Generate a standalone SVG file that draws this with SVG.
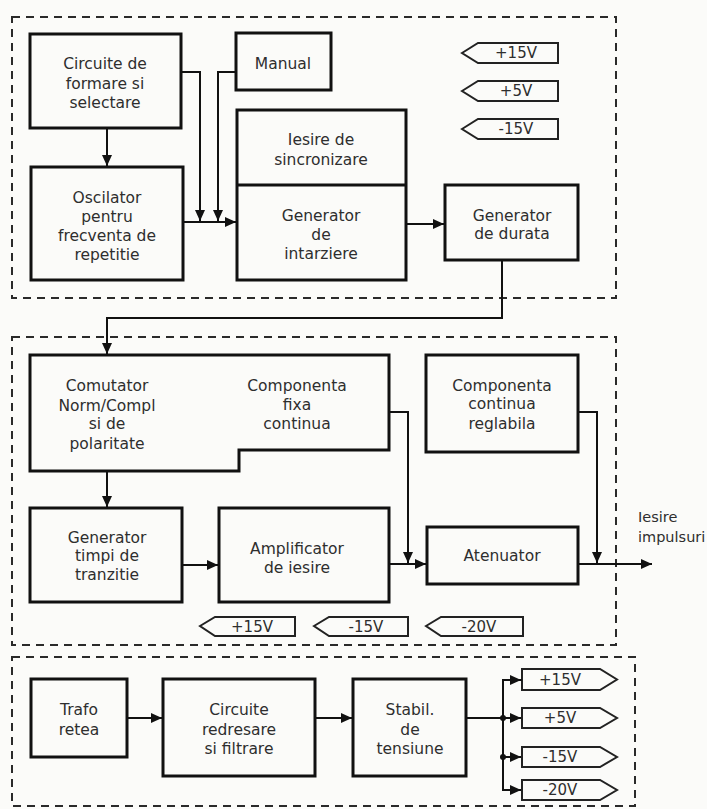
<svg xmlns="http://www.w3.org/2000/svg" width="707" height="809" viewBox="0 0 707 809">
<style>
.bg{fill:#fbfbf9}
.frame{fill:none;stroke:#2a2a2a;stroke-width:2;stroke-dasharray:8 6}
.box{fill:none;stroke:#111;stroke-width:3}
.tag{fill:none;stroke:#222;stroke-width:2}
.wire{fill:none;stroke:#111;stroke-width:2}
text{font-family:"DejaVu Sans","Liberation Sans",sans-serif;font-size:15.5px;fill:#2e2e2e;text-anchor:middle}
.tt{font-size:15px}
.out{text-anchor:start;font-size:14.5px}
</style>
<defs>
<marker id="ah" markerUnits="userSpaceOnUse" markerWidth="12" markerHeight="10" refX="11" refY="5" orient="auto">
<path d="M0,0 L11,5 L0,10 Z" fill="#111"/>
</marker>
</defs>
<rect class="bg" x="0" y="0" width="707" height="809"/>

<g id="frames">
<rect class="frame" x="12" y="17" width="604" height="281"/>
<rect class="frame" x="12" y="337" width="604" height="308"/>
<rect class="frame" x="12" y="657" width="623" height="149"/>
</g>

<g id="n-circuite-formare">
<rect class="box" x="30" y="34" width="151" height="94"/>
<text x="105" y="69">Circuite de</text>
<text x="105" y="89">formare si</text>
<text x="105" y="108">selectare</text>
</g>
<g id="n-manual">
<rect class="box" x="236" y="33" width="95" height="57"/>
<text x="283" y="69">Manual</text>
</g>
<g id="n-oscilator">
<rect class="box" x="31" y="167" width="152" height="113"/>
<text x="107" y="203">Oscilator</text>
<text x="107" y="222">pentru</text>
<text x="107" y="241">frecventa de</text>
<text x="107" y="260">repetitie</text>
</g>
<g id="n-generator-intarziere">
<rect class="box" x="237" y="110" width="169" height="170"/>
<line class="box" x1="237" y1="185" x2="406" y2="185"/>
<text x="321" y="145">Iesire de</text>
<text x="321" y="165">sincronizare</text>
<text x="321" y="221">Generator</text>
<text x="321" y="240">de</text>
<text x="321" y="259">intarziere</text>
</g>
<g id="n-generator-durata">
<rect class="box" x="445" y="185" width="133" height="75"/>
<text x="512" y="221">Generator</text>
<text x="512" y="239">de durata</text>
</g>
<g id="t-top-p15">
<polygon class="tag" points="462,53 478,43 558,43 558,63 478,63"/>
<text class="tt" x="516" y="58">+15V</text>
</g>
<g id="t-top-p5">
<polygon class="tag" points="462,91 478,81 558,81 558,101 478,101"/>
<text class="tt" x="516" y="96">+5V</text>
</g>
<g id="t-top-m15">
<polygon class="tag" points="462,129 478,119 558,119 558,139 478,139"/>
<text class="tt" x="516" y="134">-15V</text>
</g>

<g id="n-comutator">
<polygon class="box" points="30,355 389,355 389,450 239,450 239,471 30,471"/>
<text x="107" y="391">Comutator</text>
<text x="107" y="411">Norm/Compl</text>
<text x="107" y="429">si de</text>
<text x="107" y="449">polaritate</text>
<text x="297" y="391">Componenta</text>
<text x="297" y="410">fixa</text>
<text x="297" y="429">continua</text>
</g>
<g id="n-componenta-reglabila">
<rect class="box" x="426" y="355" width="152" height="97"/>
<text x="502" y="391">Componenta</text>
<text x="502" y="409">continua</text>
<text x="502" y="429">reglabila</text>
</g>
<g id="n-generator-timpi">
<rect class="box" x="30" y="508" width="152" height="94"/>
<text x="107" y="543">Generator</text>
<text x="107" y="561">timpi de</text>
<text x="107" y="580">tranzitie</text>
</g>
<g id="n-amplificator">
<rect class="box" x="219" y="508" width="170" height="94"/>
<text x="297" y="554">Amplificator</text>
<text x="297" y="573">de iesire</text>
</g>
<g id="n-atenuator">
<rect class="box" x="427" y="527" width="151" height="57"/>
<text x="502" y="561">Atenuator</text>
</g>
<g id="n-iesire-impulsuri">
<text class="out" x="638" y="522">Iesire</text>
<text class="out" x="638" y="542">impulsuri</text>
</g>
<g id="t-mid-p15">
<polygon class="tag" points="200,626 215,617 295,617 295,636 215,636"/>
<text class="tt" x="252" y="632">+15V</text>
</g>
<g id="t-mid-m15">
<polygon class="tag" points="314,626 329,617 408,617 408,636 329,636"/>
<text class="tt" x="366" y="632">-15V</text>
</g>
<g id="t-mid-m20">
<polygon class="tag" points="426,626 441,617 523,617 523,636 441,636"/>
<text class="tt" x="479" y="632">-20V</text>
</g>

<g id="n-trafo">
<rect class="box" x="31" y="679" width="96" height="78"/>
<text x="79" y="715">Trafo</text>
<text x="79" y="735">retea</text>
</g>
<g id="n-redresare">
<rect class="box" x="163" y="679" width="152" height="97"/>
<text x="239" y="715">Circuite</text>
<text x="239" y="735">redresare</text>
<text x="239" y="754">si filtrare</text>
</g>
<g id="n-stabil">
<rect class="box" x="353" y="679" width="113" height="97"/>
<text x="410" y="715">Stabil.</text>
<text x="410" y="735">de</text>
<text x="410" y="754">tensiune</text>
</g>
<g id="t-bot-p15">
<polygon class="tag" points="522,669 600,669 617,679.5 600,690 522,690"/>
<text class="tt" x="560" y="685">+15V</text>
</g>
<g id="t-bot-p5">
<polygon class="tag" points="522,708 600,708 617,718 600,728 522,728"/>
<text class="tt" x="560" y="723">+5V</text>
</g>
<g id="t-bot-m15">
<polygon class="tag" points="522,747 600,747 617,757 600,767 522,767"/>
<text class="tt" x="560" y="762">-15V</text>
</g>
<g id="t-bot-m20">
<polygon class="tag" points="522,780 600,780 617,790 600,800 522,800"/>
<text class="tt" x="560" y="795">-20V</text>
</g>

<g id="connectors">
<path class="wire" d="M107,128 V166" marker-end="url(#ah)"/>
<path class="wire" d="M181,72 H200 V221" marker-end="url(#ah)"/>
<path class="wire" d="M236,72 H218 V221" marker-end="url(#ah)"/>
<path class="wire" d="M183,222 H236" marker-end="url(#ah)"/>
<path class="wire" d="M406,224 H444" marker-end="url(#ah)"/>
<path class="wire" d="M502,260 V318 H107 V354" marker-end="url(#ah)"/>
<path class="wire" d="M107,471 V507" marker-end="url(#ah)"/>
<path class="wire" d="M182,565 H218" marker-end="url(#ah)"/>
<path class="wire" d="M389,564 H426" marker-end="url(#ah)"/>
<path class="wire" d="M389,412 H408 V563" marker-end="url(#ah)"/>
<path class="wire" d="M578,412 H597 V563" marker-end="url(#ah)"/>
<path class="wire" d="M578,564 H652" marker-end="url(#ah)"/>
<path class="wire" d="M127,718 H162" marker-end="url(#ah)"/>
<path class="wire" d="M315,718 H352" marker-end="url(#ah)"/>
<path class="wire" d="M466,718 H503"/>
<path class="wire" d="M522,680 H503 V790 H521" marker-end="url(#ah)"/>
<path class="wire" d="M503,680 H521" marker-end="url(#ah)"/>
<path class="wire" d="M503,718 H521" marker-end="url(#ah)"/>
<path class="wire" d="M503,757 H521" marker-end="url(#ah)"/>
<circle cx="503" cy="718" r="3" fill="#111"/>
<circle cx="503" cy="757" r="3" fill="#111"/>
</g>
</svg>
